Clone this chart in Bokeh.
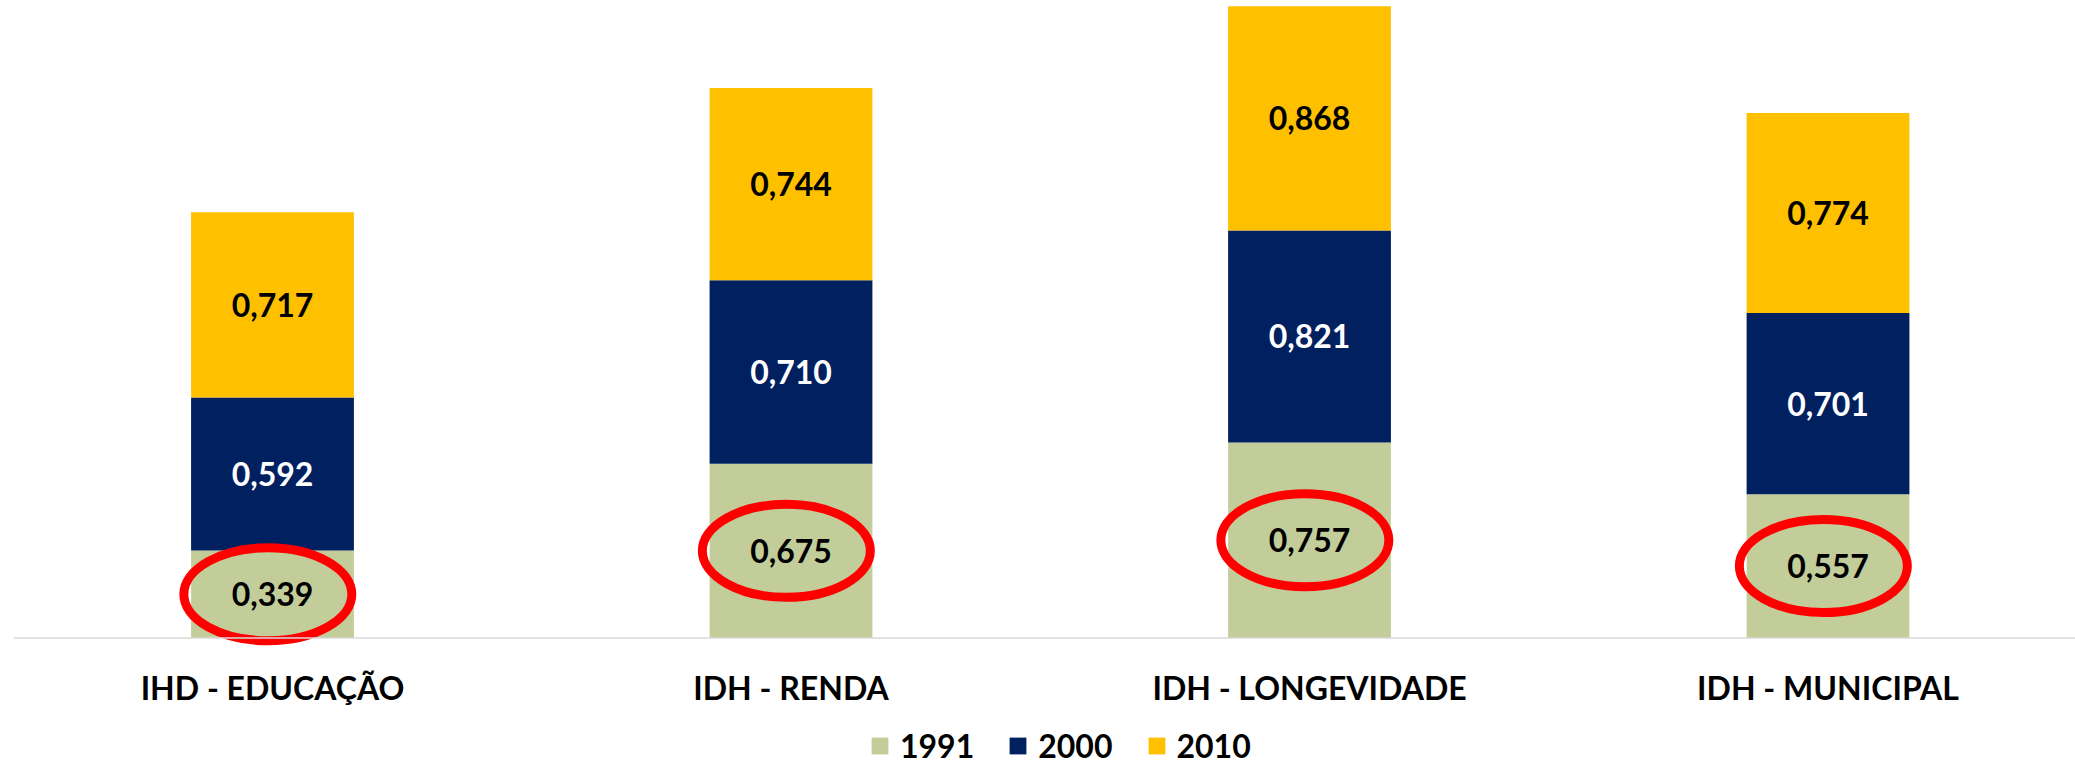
from bokeh.plotting import figure
from bokeh.models import ColumnDataSource, Range1d, Span
from bokeh.core.properties import value
from bokeh.embed import file_html
from bokeh.resources import INLINE

categories = ["IHD - EDUCAÇÃO", "IDH - RENDA", "IDH - LONGEVIDADE", "IDH - MUNICIPAL"]
years = ["1991", "2000", "2010"]
v1991 = [0.339, 0.675, 0.757, 0.557]
v2000 = [0.592, 0.710, 0.821, 0.701]
v2010 = [0.717, 0.744, 0.868, 0.774]

colors = ["#C2CD9A", "#002060", "#FFC000"]
text_colors = ["#000000", "#FFFFFF", "#000000"]
FONT = "Lato"

xs = list(range(len(categories)))
src = ColumnDataSource(dict(x=xs, y1991=v1991, y2000=v2000, y2010=v2010))

p = figure(width=2075, height=771, output_backend="svg", toolbar_location=None,
           x_range=Range1d(-0.4995, 3.4773), y_range=Range1d(-0.5168, 2.468),
           x_axis_location=None, y_axis_location=None,
           min_border_left=13, min_border_right=0, min_border_top=0, min_border_bottom=0)
p.outline_line_color = None
p.grid.visible = False
p.background_fill_color = "white"

# baseline (category axis line)
p.add_layout(Span(location=0, dimension="width", line_color="#D9D9D9", line_width=1.5))

p.vbar_stack(["y1991", "y2000", "y2010"], x="x", width=0.314, source=src,
             color=colors, line_color=None, legend_label=years)

# value labels centred in each segment
series = [v1991, v2000, v2010]
base = [0.0] * len(categories)
for vals, tc in zip(series, text_colors):
    mids = [b + v / 2 for b, v in zip(base, vals)]
    labels = [f"{v:.3f}".replace(".", ",") for v in vals]
    p.text(x=xs, y=mids, text=labels, text_color=tc, text_font=value(FONT),
           text_font_style="bold", text_font_size="32px", text_align="center",
           text_baseline="middle")
    base = [b + v for b, v in zip(base, vals)]

# red ellipses highlighting the 1991 values
p.ellipse(x=[x - 0.009 for x in xs], y=[v / 2 for v in v1991], width=168, height=93,
          width_units="screen", height_units="screen", fill_color=None,
          line_color="#FF0000", line_width=9)

# category labels under the baseline
p.text(x=xs, y=[0] * len(xs), text=categories, y_offset=49, text_color="#000000",
       text_font=value(FONT), text_font_style="bold", text_font_size="32px",
       text_align="center", text_baseline="middle")

lg = p.legend[0]
lg.orientation = "horizontal"
lg.location = (856, 6)
lg.glyph_width = 21
lg.glyph_height = 21
lg.label_standoff = 10
lg.spacing = 33
lg.padding = 0
lg.margin = 0
lg.border_line_color = None
lg.background_fill_alpha = 0
lg.label_text_font = FONT
lg.label_text_font_style = "bold"
lg.label_text_font_size = "32px"
lg.label_text_color = "#000000"

open("out.html", "w").write(file_html(p, INLINE))
